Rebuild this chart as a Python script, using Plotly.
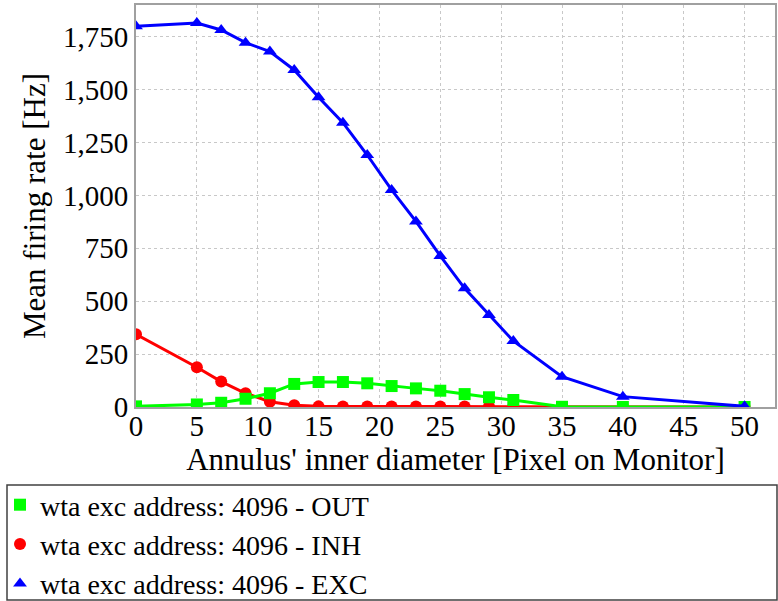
import plotly.graph_objects as go

x_vals = [0, 5, 7, 9, 11, 13, 15, 17, 19, 21, 23, 25, 27, 29, 31, 35, 40, 50]
exc = [1800, 1815, 1782, 1722, 1680, 1593, 1464, 1344, 1191, 1026, 877, 714, 561, 435, 312, 143, 49, 3]
inh = [344, 188, 120, 65, 25, 8, 3, 2, 2, 2, 2, 2, 2, 2, 1, 0, 0, 0]
out = [3, 12, 20, 39, 65, 109, 118, 118, 112, 99, 88, 77, 61, 46, 33, 1, 0, 0]

names = ["wta exc address: 4096 - OUT", "wta exc address: 4096 - INH", "wta exc address: 4096 - EXC"]
colors = ["#00ff00", "#ff0000", "#0000ff"]
symbols = ["square", "circle", "triangle-up"]
series = [out, inh, exc]

x_ticks = list(range(0, 51, 5))
y_ticks = list(range(0, 1751, 250))

FONT = "Liberation Serif"

fig = go.Figure()
# draw order: INH, OUT, EXC
for i in [1, 0, 2]:
    fig.add_trace(go.Scatter(
        x=x_vals, y=series[i], mode="lines+markers",
        line=dict(color=colors[i], width=3),
        marker=dict(symbol=symbols[i], size=12, color=colors[i]),
        showlegend=False, hoverinfo="skip"))
# legend entries
for i in range(3):
    fig.add_trace(go.Scatter(
        x=[None], y=[None], mode="markers", name=names[i],
        marker=dict(symbol=symbols[i], size=10, color=colors[i])))

fig.update_layout(
    width=778, height=601,
    margin=dict(l=136, r=3, t=5, b=194),
    paper_bgcolor="white", plot_bgcolor="white",
    font=dict(family=FONT, color="black"),
    xaxis=dict(range=[0, 52.5], tickvals=x_ticks, ticks="", automargin=False,
               ticklabelstandoff=-8,
               showgrid=True, gridcolor="#c8c8c8", griddash="dot", gridwidth=1,
               showline=True, linecolor="#a0a0a0", linewidth=2, mirror=True,
               zeroline=False, tickfont=dict(size=29, family=FONT),
               title=dict(text="Annulus' inner diameter [Pixel on Monitor]",
                          font=dict(size=31, family=FONT), standoff=8)),
    yaxis=dict(range=[0, 1900], tickvals=y_ticks, tickformat=",d", ticks="", automargin=False,
               showgrid=True, gridcolor="#c8c8c8", griddash="dot", gridwidth=1,
               showline=True, linecolor="#a0a0a0", linewidth=2, mirror=True,
               zeroline=False, tickfont=dict(size=29, family=FONT),
               title=dict(text="Mean firing rate [Hz]",
                          font=dict(size=31, family=FONT), standoff=8)),
    legend=dict(xref="paper", yref="container", x=(-8 - 136) / 639, xanchor="left",
                y=1 - 480 / 601, yanchor="top",
                bgcolor="rgba(0,0,0,0)", font=dict(size=28, family=FONT),
                itemsizing="constant"),
    shapes=[dict(type="rect", xref="paper", yref="paper",
                 x0=(7 - 136) / 639, x1=(777 - 136) / 639,
                 y0=(407 - 485) / 402, y1=(407 - 600) / 402,
                 line=dict(color="#404040", width=1.5), fillcolor="rgba(0,0,0,0)")],
)

fig.write_html("out.html")
